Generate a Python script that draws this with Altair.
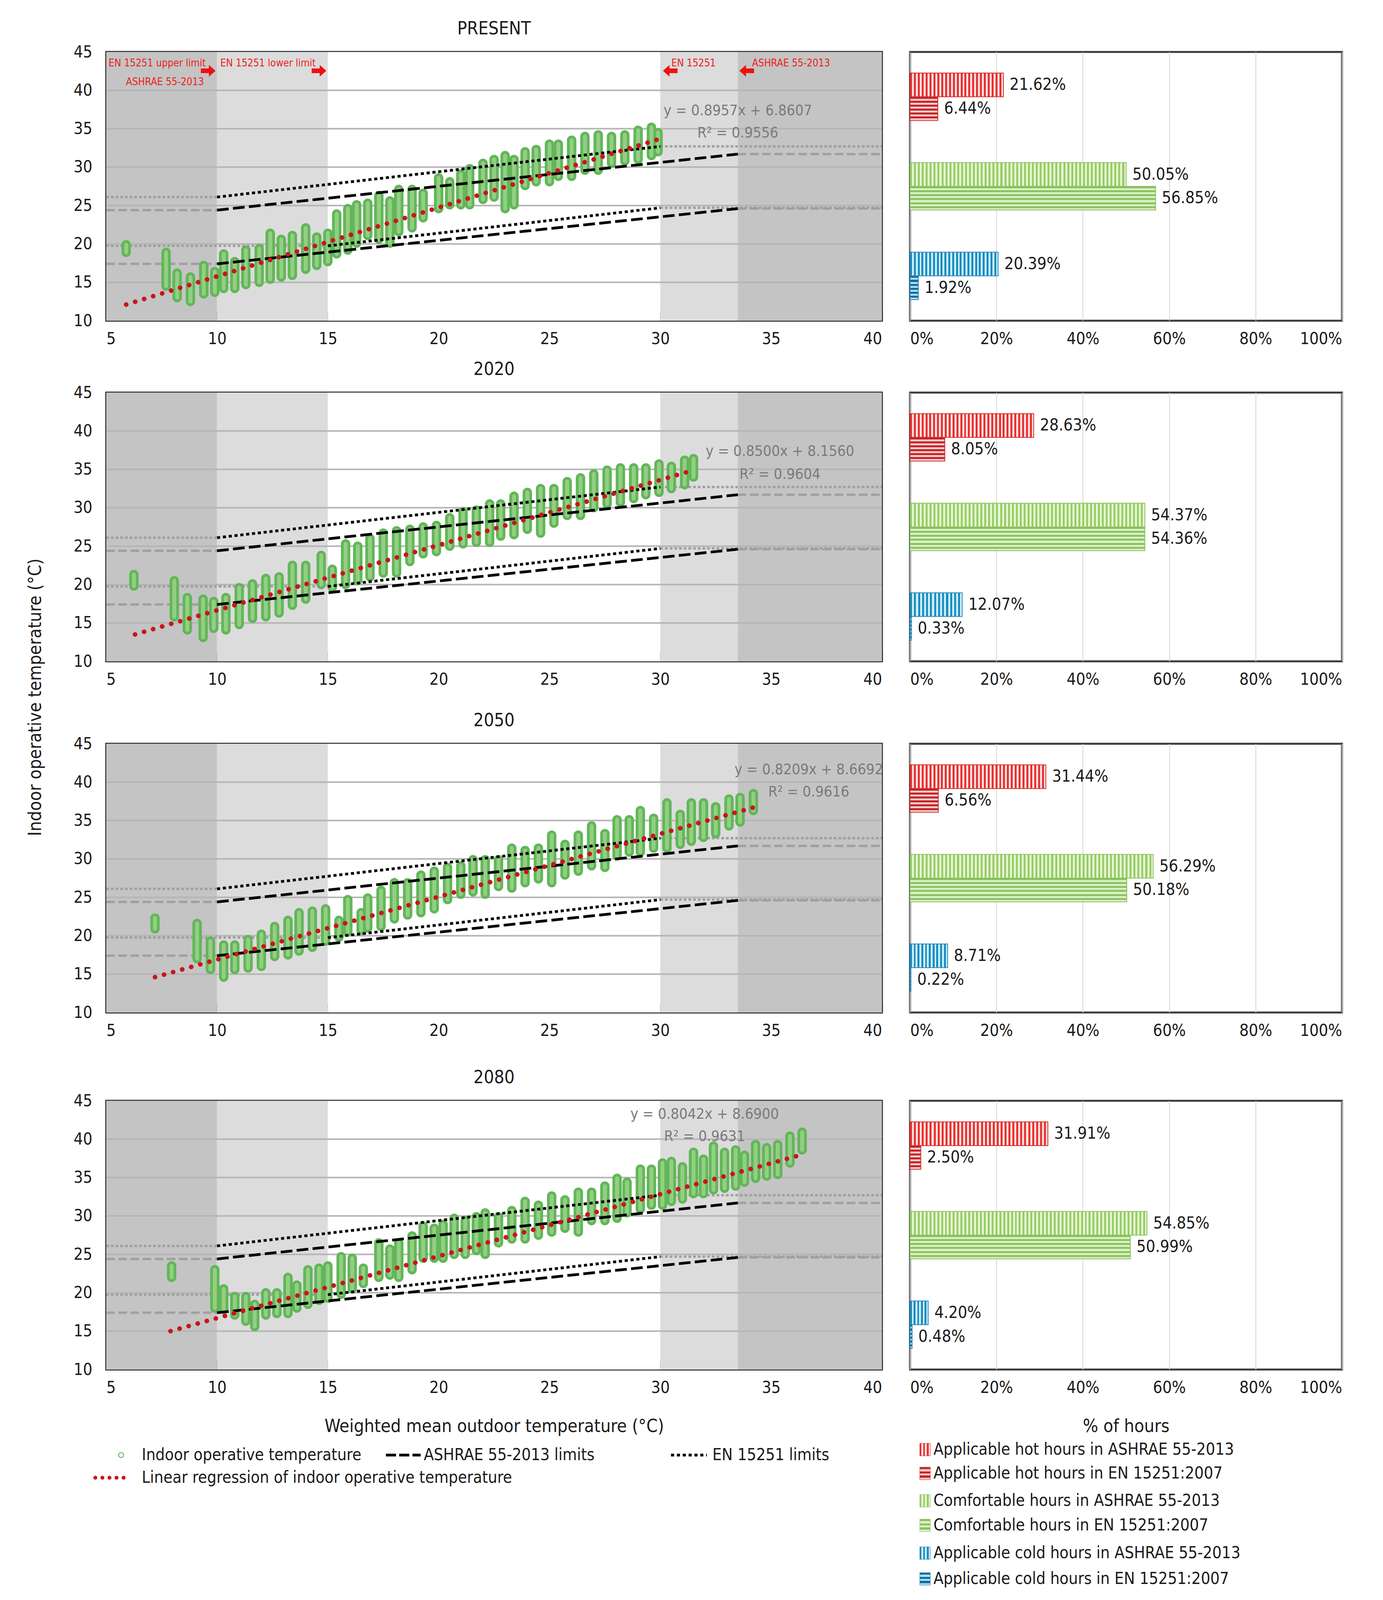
import altair as alt
import pandas as pd

FONT = "Liberation Sans Narrow, DejaVu Sans Condensed, Liberation Sans, sans-serif"
TXT = "#1a1a1a"

# ---------------- data ----------------
panel_titles = ["PRESENT", "2020", "2050", "2080"]

# indoor operative temperature streaks: (outdoor T, indoor min, indoor max)
s_present = [(5.9,18.9,19.9),(7.7,14.5,18.9),(8.2,13.0,16.2),(8.8,12.5,15.7),(9.4,13.5,17.2),(9.9,13.7,16.4),
             (10.3,14.2,18.7),(10.8,14.2,17.7),(11.3,14.7,19.2),(11.9,15.0,19.4),(12.4,15.4,21.4),(12.9,15.7,20.6),
             (13.4,15.9,21.1),(14.0,16.7,22.1),(14.5,17.2,20.9),(15.0,17.7,21.4),(15.4,18.7,23.9),(15.9,19.2,24.6),
             (16.3,20.1,25.1),(16.8,21.1,25.3),(17.3,20.6,26.3),(17.8,20.1,25.6),(18.2,21.6,27.1),(18.8,22.1,27.1),
             (19.3,23.4,26.6),(20.0,24.6,28.6),(20.5,25.1,28.1),(21.0,25.1,29.1),(21.4,25.1,29.8),(22.0,25.8,30.5),
             (22.5,26.1,31.0),(23.0,24.6,31.5),(23.4,25.1,31.0),(23.9,27.6,32.0),(24.4,28.1,32.3),(25.0,28.1,33.0),
             (25.4,28.8,33.0),(26.0,28.8,33.5),(26.6,29.6,34.0),(27.2,29.6,34.2),(27.8,30.5,34.0),(28.4,30.8,34.2),
             (29.0,31.0,34.8),(29.6,31.5,35.2),(29.9,32.0,34.5)]
s_2020 = [(6.25,19.8,21.3),(8.07,15.8,20.5),(8.66,14.1,18.3),(9.37,13.1,18.1),(9.85,14.3,17.8),(10.4,14.1,18.3),
          (11.0,14.8,19.6),(11.6,15.6,20.1),(12.2,15.8,20.8),(12.8,16.3,21.0),(13.4,17.3,22.5),(14.0,18.1,22.5),
          (14.7,20.0,23.8),(15.2,19.6,22.0),(15.8,20.0,25.3),(16.35,20.5,25.0),(16.9,21.0,26.0),(17.5,21.5,26.7),
          (18.1,21.5,27.0),(18.7,23.0,27.2),(19.3,24.0,27.5),(19.9,24.3,27.7),(20.5,25.0,28.7),(21.1,25.3,29.5),
          (21.7,25.5,29.7),(22.3,25.5,30.5),(22.8,26.3,30.5),(23.4,26.5,31.5),(24.0,27.2,32.0),(24.6,26.7,32.5),
          (25.2,28.0,32.5),(25.8,29.0,33.4),(26.4,29.0,33.9),(27.0,30.0,34.4),(27.6,30.5,34.9),(28.2,30.7,35.2),
          (28.8,31.2,35.2),(29.35,31.7,35.2),(29.94,32.0,35.7),(30.5,32.5,35.4),(31.1,33.0,36.2),(31.5,34.0,36.4)]
s_2050 = [(7.2,20.9,22.3),(9.1,17.0,21.6),(9.7,15.6,19.3),(10.3,14.6,18.8),(10.8,15.6,18.8),(11.4,15.8,19.5),
          (12.0,16.0,20.2),(12.6,17.3,21.2),(13.2,17.5,22.0),(13.7,18.0,23.0),(14.3,18.5,23.2),(14.9,19.3,23.5),
          (15.5,19.8,22.0),(15.9,20.5,24.7),(16.5,20.7,23.0),(16.8,21.0,24.9),(17.4,21.2,25.9),(18.0,22.2,26.9),
          (18.6,22.7,26.9),(19.2,23.0,27.9),(19.8,23.5,28.4),(20.4,24.7,28.9),(21.0,25.4,29.1),(21.55,25.7,29.9),
          (22.1,25.4,29.9),(22.7,26.4,29.9),(23.3,26.2,31.4),(23.9,26.9,31.1),(24.5,27.4,31.4),(25.1,26.9,33.1),
          (25.7,27.9,31.9),(26.3,28.4,33.1),(26.9,29.1,34.3),(27.5,28.9,33.3),(28.05,30.4,35.1),(28.6,30.9,35.1),
          (29.1,30.9,36.3),(29.7,31.4,35.3),(30.3,31.4,37.3),(30.9,31.9,35.8),(31.4,32.3,37.3),(31.95,32.8,37.3),
          (32.5,33.3,36.8),(33.1,34.3,37.8),(33.6,34.8,38.0),(34.2,36.3,38.5)]
s_2080 = [(7.95,22.0,23.5),(9.9,18.0,23.0),(10.3,17.8,20.5),(10.8,17.1,19.5),(11.3,16.3,19.5),(11.7,15.6,18.5),
          (12.2,17.1,20.0),(12.7,17.3,20.0),(13.2,17.3,22.0),(13.6,18.0,21.0),(14.1,18.5,23.0),(14.6,19.0,23.2),
          (15.0,19.3,23.5),(15.6,19.8,24.7),(16.1,20.5,24.5),(16.6,21.2,23.2),(17.3,22.0,26.5),(17.8,22.3,25.7),
          (18.2,22.0,26.5),(18.8,23.0,27.4),(19.3,24.5,28.7),(19.8,24.5,28.4),(20.2,24.5,28.9),(20.7,25.0,29.7),
          (21.2,25.0,29.4),(21.7,25.5,29.9),(22.1,25.0,30.4),(22.7,26.5,29.9),(23.3,27.0,30.7),(23.9,27.0,31.9),
          (24.5,27.5,31.4),(25.1,27.9,32.6),(25.7,28.4,32.1),(26.3,27.9,33.1),(26.9,29.4,33.1),(27.5,29.4,33.9),
          (28.05,29.7,34.9),(28.5,30.4,34.4),(29.1,30.9,36.1),(29.6,31.4,36.1),(30.1,31.4,36.9),(30.5,31.9,37.1),
          (31.0,32.2,36.4),(31.5,32.9,38.3),(31.95,32.9,37.4),(32.4,33.4,39.1),(32.9,33.6,38.3),(33.4,33.9,38.6),
          (33.8,34.4,37.9),(34.3,34.9,39.3),(34.8,35.2,38.9),(35.3,35.4,39.3),(35.85,36.9,40.4),(36.4,38.6,40.9)]
streaks = [s_present, s_2020, s_2050, s_2080]

# linear regression end points (x0, y0, x1, y1)
regression = [(5.9, 12.1, 30.0, 33.7), (6.3, 13.5, 31.5, 34.9), (7.2, 14.6, 34.2, 36.7), (7.9, 15.0, 36.4, 38.0)]
eq_text = ["y = 0.8957x + 6.8607", "y = 0.8500x + 8.1560", "y = 0.8209x + 8.6692", "y = 0.8042x + 8.6900"]
r2_text = ["R² = 0.9556", "R² = 0.9604", "R² = 0.9616", "R² = 0.9631"]
eq_pos = [(33.5, 37.3), (35.4, 37.3), (36.7, 41.6), (32.0, 43.2)]
r2_pos = [(33.5, 34.4), (35.4, 34.3), (36.7, 38.7), (32.0, 40.3)]

# comfort limits (x0, y0, x1, y1)
limit_ashrae = [(10, 24.4, 33.5, 31.7), (10, 17.4, 33.5, 24.6)]
limit_en = [(10, 26.1, 30, 32.7), (15, 19.75, 30, 24.7)]
ext_ashrae = [(5, 24.4, 10, 24.4), (5, 17.4, 10, 17.4), (33.5, 31.7, 40, 31.7), (33.5, 24.6, 40, 24.6)]
ext_en = [(5, 26.1, 10, 26.1), (5, 19.75, 15, 19.75), (30, 32.7, 40, 32.7), (30, 24.7, 40, 24.7)]

zone_x0 = [5, 10, 15, 30, 33.5]
zone_x1 = [10, 15, 30, 33.5, 40]
zone_fill = ["#c4c4c4", "#dcdcdc", "#ffffff", "#dcdcdc", "#c4c4c4"]

x_ticks = [5, 10, 15, 20, 25, 30, 35, 40]
y_ticks = [10, 15, 20, 25, 30, 35, 40, 45]
y_grid = [15, 20, 25, 30, 35, 40]

ann_text = ["EN 15251 upper limit", "ASHRAE 55-2013", "EN 15251 lower limit", "EN 15251", "ASHRAE 55-2013"]
ann_x = [7.3, 7.65, 12.3, 31.5, 35.9]
ann_y = [43.5, 41.1, 43.5, 43.5, 43.5]
arrow_x = [9.6, 14.6, 30.45, 33.9]
arrow_y = [42.55, 42.55, 42.55, 42.55]
arrow_dir = ["right", "right", "left", "left"]

bar_cats = ["Hot", "Comfortable", "Cold"]
bar_std = ["ASHRAE 55-2013", "EN 15251:2007"]
bar_values = [
    [21.62, 6.44, 50.05, 56.85, 20.39, 1.92],
    [28.63, 8.05, 54.37, 54.36, 12.07, 0.33],
    [31.44, 6.56, 56.29, 50.18, 8.71, 0.22],
    [31.91, 2.50, 54.85, 50.99, 4.20, 0.48],
]
bar_ticks = [0, 20, 40, 60, 80, 100]

# pattern styles: (category, standard) -> (stripe colour, background, outline)
bar_style = {
    ("Hot", "ASHRAE 55-2013"): ("#e8302f", "#fde3e3", "#d42a2a"),
    ("Hot", "EN 15251:2007"): ("#c0262a", "#f9caca", "#cc3030"),
    ("Comfortable", "ASHRAE 55-2013"): ("#98cd66", "#e6f7d4", "#8cbf62"),
    ("Comfortable", "EN 15251:2007"): ("#8cc263", "#dbf2c4", "#8cbf62"),
    ("Cold", "ASHRAE 55-2013"): ("#1a8cc0", "#cdeffa", "#2a86b4"),
    ("Cold", "EN 15251:2007"): ("#15699a", "#a8e1f5", "#2a86b4"),
}

legend_left = ["Indoor operative temperature", "ASHRAE 55-2013 limits", "EN 15251 limits",
               "Linear regression of indoor operative temperature"]
legend_right = ["Applicable hot hours in ASHRAE 55-2013", "Applicable hot hours in EN 15251:2007",
                "Comfortable hours in ASHRAE 55-2013", "Comfortable hours in EN 15251:2007",
                "Applicable cold hours in ASHRAE 55-2013", "Applicable cold hours in EN 15251:2007"]
legend_right_key = [("Hot", "ASHRAE 55-2013"), ("Hot", "EN 15251:2007"),
                    ("Comfortable", "ASHRAE 55-2013"), ("Comfortable", "EN 15251:2007"),
                    ("Cold", "ASHRAE 55-2013"), ("Cold", "EN 15251:2007")]

# ---------------- helpers ----------------
SW, SH = 1986, 688
BW = 1106
LBL = 42

xs = alt.Scale(domain=[5, 40], nice=False, zero=False)
ys = alt.Scale(domain=[10, 45], nice=False, zero=False)


def stripes(c1, c2, n, along_x):
    stops = []
    for k in range(n):
        a, m, b = k / n, (k + 0.5) / n, (k + 1) / n
        stops += [alt.GradientStop(offset=a, color=c1), alt.GradientStop(offset=m, color=c1),
                  alt.GradientStop(offset=m, color=c2), alt.GradientStop(offset=b, color=c2)]
    if along_x:
        return alt.LinearGradient(gradient="linear", stops=stops, x1=0, x2=1, y1=0, y2=0)
    return alt.LinearGradient(gradient="linear", stops=stops, x1=0, x2=0, y1=0, y2=1)


RIGHT_ARROW = "M-1,-0.32L0.1,-0.32L0.1,-0.8L1,0L0.1,0.8L0.1,0.32L-1,0.32Z"
LEFT_ARROW = "M1,-0.32L-0.1,-0.32L-0.1,-0.8L-1,0L-0.1,0.8L-0.1,0.32L1,0.32Z"


def scatter_panel(i, last):
    xkw = dict(values=x_ticks, offset=-24, tickSize=24, tickWidth=4, tickColor="#333333",
               domain=False, grid=False, labelFontSize=LBL, labelPadding=26, labelColor=TXT)
    if last:
        xkw.update(title="Weighted mean outdoor temperature (°C)", titleFontSize=46,
                   titlePadding=56, titleColor=TXT, titleFontWeight="normal")
    else:
        xkw.update(title=None)
    xax = alt.Axis(**xkw)
    yax = alt.Axis(values=y_ticks, ticks=False, domain=False, grid=False, labelFontSize=LBL,
                   labelPadding=36, labelColor=TXT, title=None)

    def X(f):
        return alt.X(f, scale=xs, axis=xax)

    def Y(f):
        return alt.Y(f, scale=ys, axis=yax)

    def seg_layer(segs, **mk):
        return alt.Chart(pd.DataFrame(segs, columns=["x", "y", "x2", "y2"])).mark_rule(**mk).encode(
            x=X("x:Q"), y=Y("y:Q"), x2="x2:Q", y2="y2:Q")

    zones = pd.DataFrame({"x0": zone_x0, "x1": zone_x1, "c": zone_fill})
    bg = alt.Chart(zones).mark_rect().encode(x=X("x0:Q"), x2="x1:Q", fill=alt.Fill("c:N", scale=None))
    grid = alt.Chart(pd.DataFrame({"y": y_grid})).mark_rule(color="#b5b5b5", strokeWidth=4).encode(y=Y("y:Q"))
    gdash = seg_layer(ext_ashrae, color="#a0a0a0", strokeWidth=6, strokeDash=[22, 9])
    gdot = seg_layer(ext_en, color="#a0a0a0", strokeWidth=6, strokeDash=[7, 5])
    sdf = pd.DataFrame(streaks[i], columns=["x", "lo", "hi"])
    outer = alt.Chart(sdf).mark_rule(color="#62b659", strokeWidth=24, strokeCap="round").encode(
        x=X("x:Q"), y=Y("lo:Q"), y2="hi:Q")
    inner = alt.Chart(sdf).mark_rule(color="#93cf83", strokeWidth=10, strokeCap="round").encode(
        x=X("x:Q"), y=Y("lo:Q"), y2="hi:Q")
    ash = seg_layer(limit_ashrae, color="#000000", strokeWidth=7, strokeDash=[30, 11])
    en = seg_layer(limit_en, color="#000000", strokeWidth=7, strokeDash=[8, 7])
    reg = seg_layer([regression[i]], color="#c8161d", strokeWidth=12, strokeDash=[0.1, 24],
                    strokeCap="round")
    eq = pd.DataFrame({"x": [eq_pos[i][0], r2_pos[i][0]], "y": [eq_pos[i][1], r2_pos[i][1]],
                       "t": [eq_text[i], r2_text[i]]})
    eqt = alt.Chart(eq).mark_text(fontSize=38, color="#7a7a7a", font=FONT).encode(
        x=X("x:Q"), y=Y("y:Q"), text="t:N")
    layers = [bg, grid, gdash, gdot, outer, inner, ash, en, reg, eqt]
    if i == 0:
        ann = pd.DataFrame({"x": ann_x, "y": ann_y, "t": ann_text})
        layers.append(alt.Chart(ann).mark_text(fontSize=26, color="#ee1c1c", font=FONT).encode(
            x=X("x:Q"), y=Y("y:Q"), text="t:N"))
        arr = pd.DataFrame({"x": arrow_x, "y": arrow_y, "d": arrow_dir})
        for d, path in (("right", RIGHT_ARROW), ("left", LEFT_ARROW)):
            layers.append(alt.Chart(arr).transform_filter(alt.datum.d == d).mark_point(
                shape=path, filled=True, color="#ee1111", size=1400, opacity=1).encode(
                x=X("x:Q"), y=Y("y:Q")))
    if last:
        layers += left_legend_layers()
    return alt.layer(*layers).properties(
        width=SW, height=SH, view=alt.ViewBackground(stroke="#2a2a2a", strokeWidth=5),
        title=alt.TitleParams(panel_titles[i], fontSize=46, offset=14, anchor="middle",
                              fontWeight="normal", color=TXT))


def left_legend_layers():
    df = pd.DataFrame({"lab": legend_left})
    y1, y2 = 907, 965

    def one(k):
        return alt.Chart(df).transform_filter(alt.datum.lab == legend_left[k])

    txt = dict(align="left", baseline="middle", fontSize=LBL, color=TXT, font=FONT)
    return [
        one(0).mark_point(shape="circle", filled=False, color="#4fa84a", size=160, strokeWidth=3).encode(
            x=alt.value(38), y=alt.value(y1)),
        one(0).mark_text(**txt).encode(x=alt.value(91), y=alt.value(y1), text="lab:N"),
        one(1).mark_rule(color="#000000", strokeWidth=7, strokeDash=[26, 8]).encode(
            x=alt.value(716), x2=alt.value(805), y=alt.value(y1)),
        one(1).mark_text(**txt).encode(x=alt.value(813), y=alt.value(y1), text="lab:N"),
        one(2).mark_rule(color="#000000", strokeWidth=7, strokeDash=[8, 7]).encode(
            x=alt.value(1446), x2=alt.value(1538), y=alt.value(y1)),
        one(2).mark_text(**txt).encode(x=alt.value(1552), y=alt.value(y1), text="lab:N"),
        one(3).mark_rule(color="#c8161d", strokeWidth=10, strokeDash=[0.1, 18], strokeCap="round").encode(
            x=alt.value(-28), x2=alt.value(48), y=alt.value(y2)),
        one(3).mark_text(**txt).encode(x=alt.value(91), y=alt.value(y2), text="lab:N"),
    ]


def right_legend_layers():
    df = pd.DataFrame({"lab": legend_right})
    centers = [893, 954, 1024, 1087, 1158, 1224]
    layers = []
    for lab, key, cy in zip(legend_right, legend_right_key, centers):
        c1, c2, oc = bar_style[key]
        grad = stripes(c1, c2, 3, key[1] == bar_std[0])
        sub = alt.Chart(df).transform_filter(alt.datum.lab == lab)
        layers.append(sub.mark_rect(fill=grad, stroke=oc, strokeWidth=1).encode(
            x=alt.value(25), x2=alt.value(52), y=alt.value(cy - 16), y2=alt.value(cy + 16)))
        layers.append(sub.mark_text(align="left", baseline="middle", fontSize=LBL, color=TXT,
                                    font=FONT).encode(x=alt.value(60), y=alt.value(cy), text="lab:N"))
    return layers


def bar_panel(i, last):
    vals = bar_values[i]
    cats, stds = [], []
    for c in bar_cats:
        for s in bar_std:
            cats.append(c)
            stds.append(s)
    df = pd.DataFrame({"cat": cats, "std": stds, "val": vals, "lab": [f"{v:.2f}%" for v in vals]})
    axis_kw = dict(values=bar_ticks, labelExpr="datum.value + '%'", grid=True, gridColor="#d6d6d6",
                   gridWidth=2, ticks=False, domain=False, labelFontSize=LBL, labelPadding=26,
                   labelColor=TXT)
    if last:
        axis_kw.update(title="% of hours", titleFontSize=46, titlePadding=56, titleColor=TXT,
                       titleFontWeight="normal")
    else:
        axis_kw.update(title=None)
    enc = dict(
        x=alt.X("val:Q", scale=alt.Scale(domain=[0, 100], nice=False), axis=alt.Axis(**axis_kw)),
        y=alt.Y("cat:N", scale=alt.Scale(domain=bar_cats, paddingInner=0.47, paddingOuter=0.235), axis=None),
        yOffset=alt.YOffset("std:N", scale=alt.Scale(domain=bar_std, paddingInner=0, paddingOuter=0)),
    )
    layers = []
    for c, s, v in zip(cats, stds, vals):
        c1, c2, oc = bar_style[(c, s)]
        if s == bar_std[0]:
            n = max(1, round(v * BW / 100 / 10))
            grad = stripes(c1, c2, n, True)
        else:
            grad = stripes(c1, c2, 6, False)
        layers.append(alt.Chart(df).transform_filter((alt.datum.cat == c) & (alt.datum.std == s))
                      .mark_bar(fill=grad, stroke=oc, strokeWidth=2).encode(**enc))
    layers.append(alt.Chart(df).mark_text(align="left", baseline="middle", dx=16, fontSize=LBL,
                                          color=TXT, font=FONT).encode(text="lab:N", **enc))
    if last:
        layers += right_legend_layers()
    return alt.layer(*layers).properties(
        width=BW, height=SH, view=alt.ViewBackground(stroke="#3a3a3a", strokeWidth=5))


rows = [alt.hconcat(scatter_panel(i, i == 3), bar_panel(i, i == 3), spacing=72, bounds="flush")
        for i in range(4)]
chart = alt.vconcat(
    rows[0],
    alt.vconcat(rows[1], alt.vconcat(rows[2], rows[3], spacing=71), spacing=56),
    spacing=29,
).properties(
    padding={"left": 60, "top": 40, "right": 10, "bottom": 10}, background="white",
    title=alt.TitleParams("Indoor operative temperature (°C)", orient="left", anchor="middle",
                          fontSize=46, fontWeight="normal", color=TXT, offset=70, dx=272),
).configure(font=FONT).configure_view(strokeWidth=0).configure_axis(
    labelFont=FONT, titleFont=FONT).configure_title(font=FONT, fontWeight="normal").configure_text(font=FONT)

chart.save("out.html", embed_options={"renderer": "svg", "actions": False})
